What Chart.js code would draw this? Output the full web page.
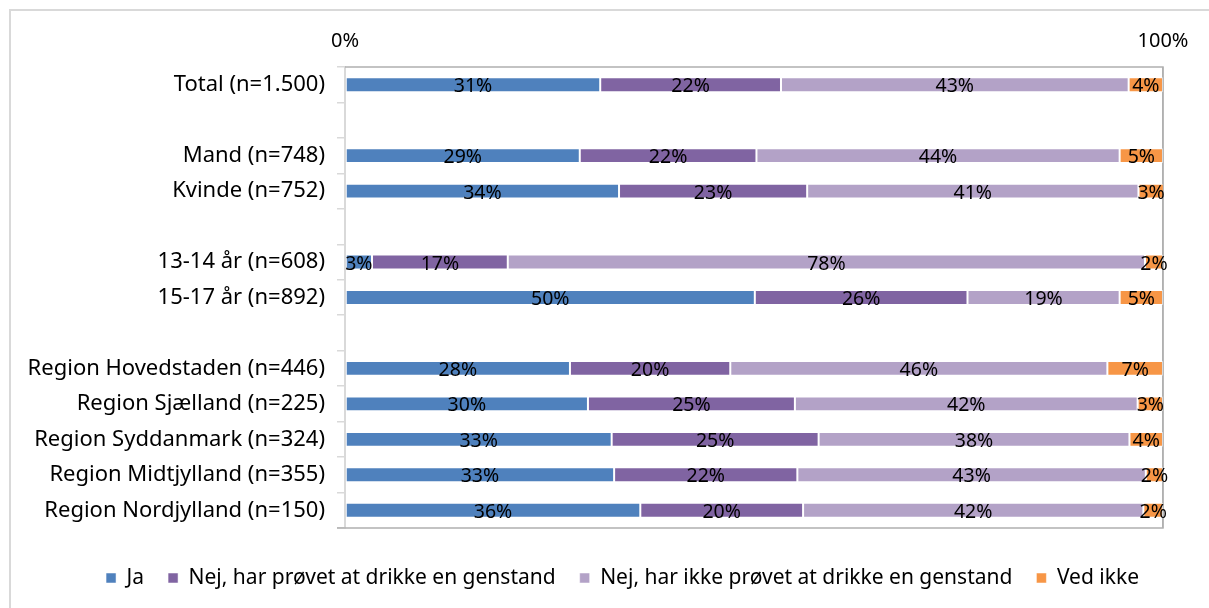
<!DOCTYPE html>
<html><head><meta charset="utf-8">
<script src="https://cdn.jsdelivr.net/npm/chart.js@4"></script>
<style>
html,body{margin:0;padding:0;background:#fff;}
#wrap{position:relative;width:1209px;height:608px;overflow:hidden;}
#frame{position:absolute;left:9px;top:9px;width:1300px;height:700px;border-left:2px solid #d9d9d9;border-top:2px solid #d9d9d9;}
canvas{position:absolute;left:0;top:0;}
</style>
</head><body>
<div id="wrap"><div id="frame"></div><canvas id="c" width="1209" height="608"></canvas></div>
<script>
const categories = ['Total (n=1.500)', '', 'Mand (n=748)', 'Kvinde (n=752)', '', '13-14 år (n=608)', '15-17 år (n=892)', '', 'Region Hovedstaden (n=446)', 'Region Sjælland (n=225)', 'Region Syddanmark (n=324)', 'Region Midtjylland (n=355)', 'Region Nordjylland (n=150)'];
const seriesNames = ['Ja', 'Nej, har prøvet at drikke en genstand', 'Nej, har ikke prøvet at drikke en genstand', 'Ved ikke'];
const ja          = [31.2, null, 28.7, 33.5, null, 3.3, 50.1, null, 27.5, 29.7, 32.6, 32.9, 36.1];
const nejProevet  = [22.1, null, 21.6, 23.0, null, 16.6, 26.0, null, 19.6, 25.3, 25.3, 22.4, 19.9];
const nejIkke     = [42.5, null, 44.4, 40.5, null, 77.9, 18.6, null, 46.1, 41.9, 38.0, 42.6, 41.6];
const vedIkke     = [4.2, null, 5.3, 3.1, null, 2.2, 5.3, null, 6.8, 3.1, 4.1, 2.1, 2.4];
const xTicks = [0, 100];
const colors = ['#4F81BD', '#8064A2', '#B3A2C7', '#F79646'];

const FONT = '"Noto Sans"';

const labelPlugin = {
  id: 'segLabels',
  afterDatasetsDraw(chart) {
    const ctx = chart.ctx;
    ctx.save();
    ctx.font = '19.5px ' + FONT;
    ctx.fillStyle = '#000';
    ctx.textAlign = 'center';
    ctx.textBaseline = 'middle';
    chart.data.datasets.forEach((ds, di) => {
      const meta = chart.getDatasetMeta(di);
      meta.data.forEach((el, i) => {
        const v = ds.data[i];
        if (v == null) return;
        const cx = (el.x + el.base) / 2;
        ctx.fillText(Math.round(v) + '%', cx, el.y + 2);
      });
    });
    ctx.restore();
  }
};

const borderPlugin = {
  id: 'plotBorder',
  beforeDatasetsDraw(chart) {
    const a = chart.chartArea, ctx = chart.ctx;
    ctx.save();
    ctx.lineWidth = 1.5;
    ctx.strokeStyle = '#b0b0b0';
    ctx.beginPath();
    ctx.moveTo(a.left, a.top); ctx.lineTo(a.right, a.top); ctx.lineTo(a.right, a.bottom); ctx.lineTo(a.left - 8, a.bottom);
    ctx.stroke();
    ctx.restore();
  }
};

new Chart(document.getElementById('c'), {
  type: 'bar',
  data: {
    labels: categories,
    datasets: [ja, nejProevet, nejIkke, vedIkke].map((d, i) => ({
      label: seriesNames[i],
      data: d,
      backgroundColor: colors[i],
      borderColor: 'rgba(255,255,255,0.5)',
      borderWidth: 1,
      borderSkipped: false,
      categoryPercentage: 1,
      barPercentage: 0.42
    }))
  },
  options: {
    indexAxis: 'y',
    responsive: false,
    animation: false,
    layout: { padding: { left: 0, right: 46, top: 22, bottom: 9.5 } },
    scales: {
      x: {
        position: 'top',
        stacked: true,
        min: 0, max: 100,
        afterBuildTicks(scale) { scale.ticks = xTicks.map(v => ({ value: v })); },
        afterFit(scale) { scale.height = 45; },
        ticks: { callback: v => v + '%', font: { family: FONT, size: 20 }, color: '#000', padding: 14 },
        grid: { color: ctx => (ctx.tick && ctx.tick.value === 100) ? '#b0b0b0' : 'rgba(0,0,0,0)', drawTicks: false, lineWidth: 1.5 },
        border: { display: false }
      },
      y: {
        stacked: true,
        afterFit(scale) { scale.width = 345; },
        ticks: { font: { family: FONT, size: 22 }, color: '#000', padding: 12 },
        grid: { offset: true, drawOnChartArea: false, color: '#d9d9d9', tickLength: 8, lineWidth: 1.5 },
        border: { display: true, color: '#d9d9d9', width: 2 }
      }
    },
    plugins: {
      legend: {
        position: 'bottom',
        align: 'end',
        title: { display: true, text: ' ', font: { size: 12, lineHeight: 1 }, padding: { top: 3.5, bottom: 0 } },
        labels: { boxWidth: 10, boxHeight: 10, font: { family: FONT, size: 21 }, color: '#000', padding: 24 }
      },
      tooltip: { enabled: false }
    }
  },
  plugins: [borderPlugin, labelPlugin]
});
</script>
</body></html>
